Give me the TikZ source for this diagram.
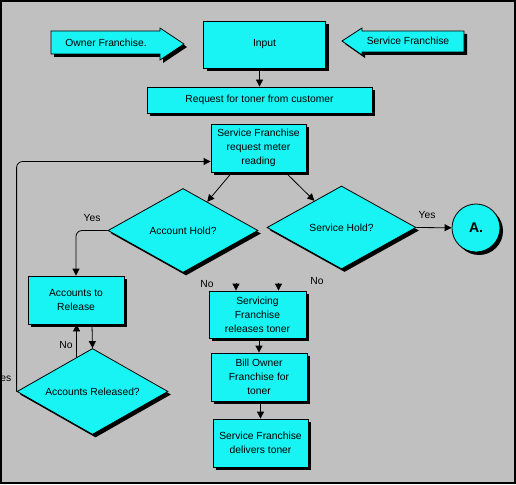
\documentclass[tikz,border=0pt]{standalone}
\usepackage{fontspec}
\setmainfont{Liberation Sans}
\usetikzlibrary{shapes.geometric, arrows.meta, shadows, calc}
\definecolor{flowcyan}{RGB}{24,244,244}
\definecolor{panelgray}{RGB}{192,192,192}
\tikzset{
  font=\fontsize{10.3}{14}\selectfont,          % screen-like text
  shadowed/.style  = {general shadow={fill=black, shadow xshift=3pt, shadow yshift=-3pt}},
  process/.style   = {rectangle, draw, fill=flowcyan, shadowed,
                      align=center, inner sep=0pt},
  decision/.style  = {diamond, draw, fill=flowcyan, shadowed,
                      aspect=1.8, inner sep=0pt},
  connector/.style = {circle, draw, fill=flowcyan, shadowed, inner sep=0pt,
                      minimum size=48pt, font=\fontsize{14}{16}\selectfont\bfseries},
  fatarrow/.style  = {draw, fill=flowcyan, shadowed},
  arrow/.style     = {-{Triangle[length=7pt,width=7pt]}}
}

\begin{document}
\begin{tikzpicture}[x=1pt, y=-1pt, line width=0.8pt]
  \useasboundingbox (0,0) rectangle (516,484);
  \fill[panelgray] (0,0) rectangle (516,484);

  % side inputs
  \filldraw[fatarrow] (51,31) -- (160,31) -- (160,28) -- (184,44) -- (160,60) -- (160,54) -- (51,54) -- cycle;
  \filldraw[fatarrow] (342,41) -- (362,28) -- (362,31) -- (464,31) -- (464,52) -- (362,52) -- (362,55) -- cycle;
  \node (owner) at (106,43) {Owner Franchise.};
  \node (service) at (408,41) {Service Franchise};

  % main column
  \node[process, minimum width=122pt, minimum height=47pt] (input) at (264.5,44.5) {Input};
  \node[process, minimum width=225pt, minimum height=26pt] (request) at (259.5,100) {Request for toner from customer};
  \node[process, minimum width=95pt, minimum height=48pt] (sfr) at (258.5,148) {Service Franchise\\request meter\\reading};
  \node[decision, minimum width=150pt, minimum height=84pt] (acct) at (183,230.5) {Account Hold?};
  \node[decision, minimum width=149pt, minimum height=83pt] (svc) at (341.5,227.5) {Service Hold?};
  \node[connector] (conA) at (476,228) {A.};
  \node[process, minimum width=97pt, minimum height=47pt] (srt) at (257.5,314.5) {Servicing\\Franchise\\releases toner};
  \node[process, minimum width=96pt, minimum height=48pt] (bill) at (259,377) {Bill Owner\\Franchise for\\toner};
  \node[process, minimum width=95pt, minimum height=48pt] (deliver) at (260.5,443) {Service Franchise\\delivers toner};

  % release loop
  \node[process, minimum width=96pt, minimum height=48pt] (atr) at (76,300) {Accounts to\\Release};
  \node[decision, minimum width=151pt, minimum height=86pt] (ar) at (92.5,391.5) {Accounts Released?};

  % labels
  \node (yesA) at (427,215) {Yes};
  \node (yesB) at (92,218) {Yes};
  \node (noA) at (66,345) {No};
  \node[anchor=east] (yesC) at (15,378) {Yes};
  \node (noB) at (207,284) {No};
  \node (noC) at (317,281) {No};

  % connectors
  \draw[arrow] (input.south -| request.north) -- (request.north);
  \draw[arrow] ([xshift=-26.5pt]sfr.south) -- (acct);
  \draw[arrow] ([xshift=27pt]sfr.south) -- (svc);
  \draw[arrow] (svc.east) -- (conA);
  \draw[arrow, rounded corners=6pt] (acct.west) -| (atr.north);
  \draw[arrow] ([xshift=16pt]atr.south) -- (ar.north);
  \coordinate (arno) at ($(ar.west)!0.79!(ar.north)$);
  \draw[arrow] (arno) -- (arno |- atr.south);
  \draw[arrow, rounded corners=6pt] (ar.west) |- ([yshift=-13.5pt]sfr.west);
  \draw[arrow] ([shift={(-21.5,-8)}]srt.north) -- ([xshift=-21.5pt]srt.north);
  \draw[arrow] ([shift={(21,-8)}]srt.north) -- ([xshift=21pt]srt.north);
  \draw[arrow] (bill.north |- srt.south) -- (bill.north);
  \draw[arrow] (deliver.north |- bill.south) -- (deliver.north);

  % frame
  \draw[line width=2pt] (1,1) rectangle (515,483);
\end{tikzpicture}
\end{document}
